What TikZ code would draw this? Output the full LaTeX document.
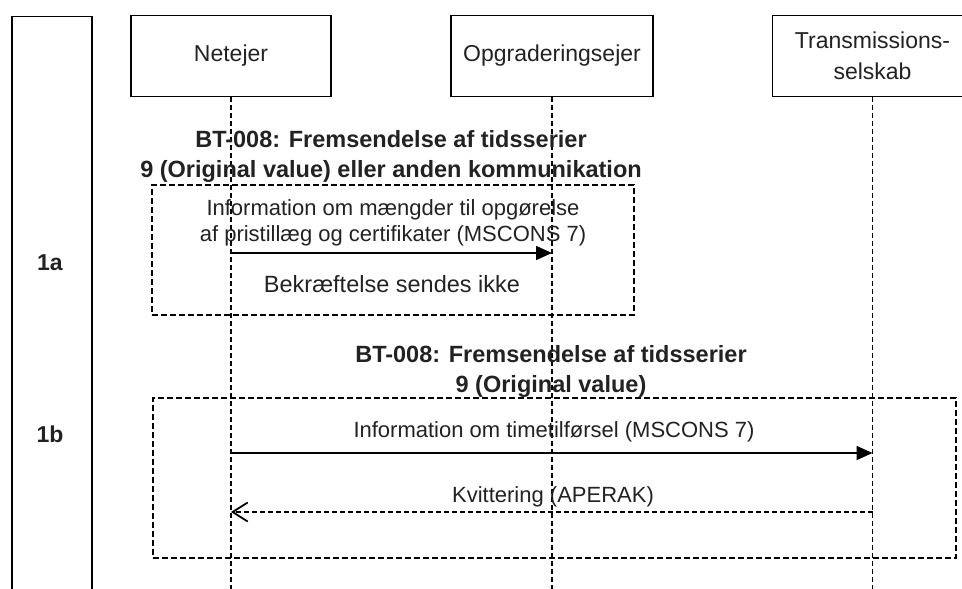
\documentclass[tikz,border=0pt]{standalone}
\usepackage{fontspec}
\setmainfont{Liberation Sans}
\usetikzlibrary{arrows.meta}
\definecolor{txt}{HTML}{222222}
\begin{document}
\begin{tikzpicture}[x=1pt,y=-1pt,
  lanebox/.style={draw, line width=1.5pt, inner sep=0pt, anchor=north west, minimum width=80pt, minimum height=620pt},
  actor/.style={draw, line width=1.5pt, minimum width=200pt, minimum height=81pt, inner sep=0pt, align=center, font=\fontsize{23}{31}\selectfont, text=txt},
  life/.style={line width=1.6pt, dash pattern=on 5pt off 3pt},
  frame/.style={draw, line width=1.5pt, dash pattern=on 6pt off 3pt, inner sep=0pt, anchor=north west},
  msg/.style={align=center, inner sep=0pt, font=\fontsize{22}{26.5}\selectfont, text=txt},
  big/.style={align=center, inner sep=0pt, font=\fontsize{23.5}{28}\selectfont, text=txt},
  ttl/.style={align=center, inner sep=0pt, font=\bfseries\fontsize{23.5}{30}\selectfont, text=txt},
  lbl/.style={inner sep=0pt, font=\bfseries\fontsize{23}{28}\selectfont, text=txt},
  call/.style={line width=1.8pt, -{Triangle[length=16pt,width=14pt]}},
  ret/.style={line width=1.6pt, dash pattern=on 5pt off 3pt, -{Straight Barb[length=15pt,width=19pt,line width=1.8pt]}},
]
\useasboundingbox (0,0) rectangle (962,589);
\clip (0,0) rectangle (962,589);

% left lane column
\node[lanebox] (lane) at (11,15.5) {};
\node[lbl] (l1a) at (50,263) {1a};
\node[lbl] (l1b) at (50,434) {1b};

% actors
\node[actor] (net) at (231,56) {Netejer};
\node[actor, minimum width=202pt] (opg) at (552,56) {Opgraderingsejer};
\node[actor] (trs) at (872.5,56) {Transmissions-\\selskab};

% lifelines
\coordinate (netend) at (231,600);
\coordinate (opgend) at (552,600);
\coordinate (trsend) at (872.5,600);
\draw[life] (net.south) -- (netend);
\draw[life] (opg.south) -- (opgend);
\draw[life] (trs.south) -- (trsend);

% section 1a
\node[ttl] (t1a) at (391,156) {BT-008: Fremsendelse af tidsserier\\9 (Original value) eller anden kommunikation};
\node[frame, minimum width=482pt, minimum height=130pt] (f1a) at (151,184) {};
\node[msg] (m1a) at (393,223) {Information om mængder til opgørelse\\af pristillæg og certifikater (MSCONS 7)};
\coordinate (m1as) at (231,253);
\coordinate (m1ae) at (552,253);
\draw[call] (m1as) -- (m1ae);
\node[big] (nb) at (392,284) {Bekræftelse sendes ikke};

% section 1b
\node[ttl] (t1b) at (551,371) {BT-008: Fremsendelse af tidsserier\\9 (Original value)};
\node[frame, minimum width=803pt, minimum height=160pt] (f1b) at (152,397) {};
\node[msg] (m1b) at (554,432) {Information om timetilførsel (MSCONS 7)};
\coordinate (m1bs) at (231,453);
\coordinate (m1be) at (872.5,453);
\draw[call] (m1bs) -- (m1be);
\node[msg] (k1b) at (553,497) {Kvittering (APERAK)};
\coordinate (r1bs) at (872.5,512);
\coordinate (r1be) at (231,512);
\draw[ret] (r1bs) -- (r1be);
\end{tikzpicture}
\end{document}
